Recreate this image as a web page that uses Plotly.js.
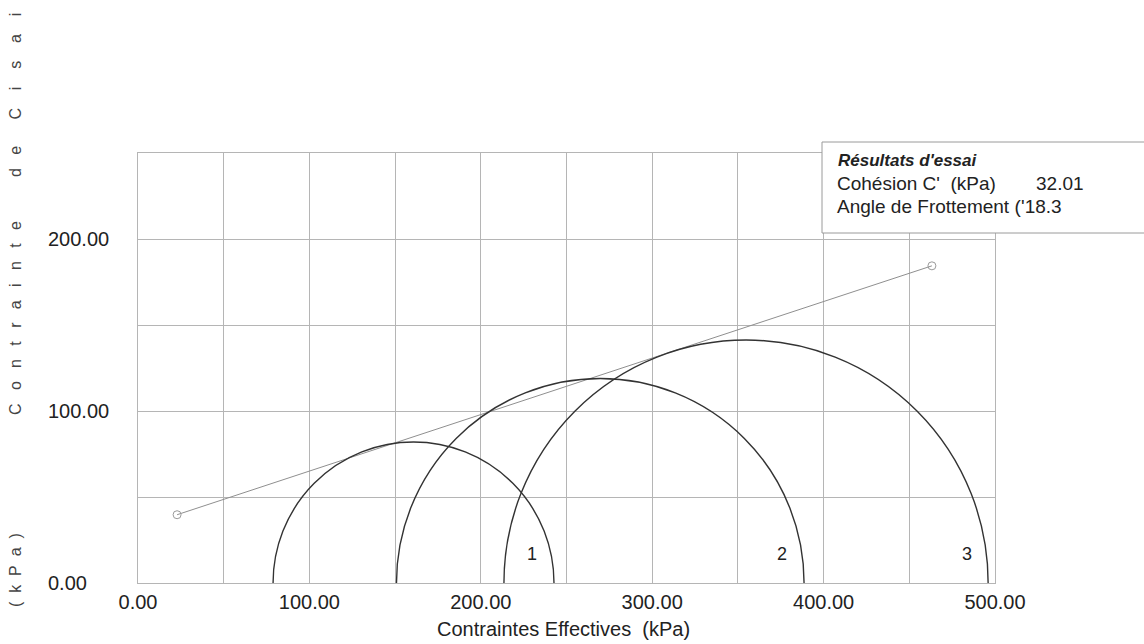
<!DOCTYPE html>
<html>
<head>
<meta charset="utf-8">
<script src="https://cdn.plot.ly/plotly-3.0.1.min.js"></script>
<style>html,body{margin:0;padding:0;background:#fff;}#chart{width:1144px;height:644px;}</style>
</head>
<body>
<div id="chart"></div>
<script>
// ---- data ----
const circleIds = ["1", "2", "3"];
const sigma3 = [78.8, 150.8, 213.5];      // left end of each Mohr circle (kPa)
const sigma1 = [242.7, 388.6, 496.0];     // right end of each Mohr circle (kPa)
const circleLabelX = [229.9, 375.7, 483.7];
const circleLabelY = [17, 17, 17];
const envelopeX = [22.8, 463.2];          // failure envelope end points
const envelopeY = [39.7, 184.4];
const xTickVals = [0, 100, 200, 300, 400, 500];
const xTickText = ["0.00", "100.00", "200.00", "300.00", "400.00", "500.00"];
const yTickVals = [0, 100, 200];
const yTickText = ["0.00", "100.00", "200.00"];
const resultTitle = "Résultats d'essai";
const resultRows = ["Cohésion C'  (kPa)", "Angle de Frottement ("];
const resultValues = ["32.01", "'18.3"];
const xTitle = "Contraintes Effectives  (kPa)";
const yTitleWords = ["(kPa)", "Contrainte", "de", "Cisaillement"];

// ---- layout geometry (pixels) ----
const W = 1144, H = 644;
const L = 138, R = 995, T = 153, B = 583;
const px = x => (x - L) / (R - L);
const py = y => (B - y) / (B - T);
const FONT = "Liberation Sans, Arial, sans-serif";
const TXT = "#222";
const GRID = "#b5b5b5";

const spaced = (w, n) => w.split("").join("\u00A0".repeat(n));

const shapes = sigma3.map((s3, i) => {
  const r = (sigma1[i] - s3) / 2;
  return {type: "circle", xref: "x", yref: "y", x0: s3, x1: sigma1[i], y0: -r, y1: r,
          line: {color: "#333333", width: 1.4}, layer: "above"};
});
// results box
shapes.push({type: "rect", xref: "paper", yref: "paper", x0: px(822), x1: px(1160), y0: py(233), y1: py(142),
             line: {color: "#9a9a9a", width: 1}, fillcolor: "#ffffff", layer: "above"});

const annotations = [];
circleIds.forEach((t, i) => annotations.push({xref: "x", yref: "y", x: circleLabelX[i], y: circleLabelY[i], text: t,
  showarrow: false, font: {family: FONT, size: 18, color: TXT}}));
yTickVals.forEach((v, i) => annotations.push({xref: "paper", yref: "y", x: px(46), y: v, text: yTickText[i],
  xanchor: "left", yanchor: "middle", showarrow: false, font: {family: FONT, size: 20, color: TXT}}));
annotations.push({xref: "paper", yref: "paper", x: px(563), y: py(629), text: xTitle, showarrow: false,
  xanchor: "center", yanchor: "middle", font: {family: FONT, size: 20, color: TXT}});
// results box text
annotations.push({xref: "paper", yref: "paper", x: px(836), y: py(160), text: "<b><i>" + resultTitle + "</i></b>",
  xanchor: "left", yanchor: "middle", showarrow: false, font: {family: FONT, size: 17, color: TXT}});
resultRows.forEach((t, i) => {
  annotations.push({xref: "paper", yref: "paper", x: px(835), y: py(184 + 23 * i), text: t,
    xanchor: "left", yanchor: "middle", showarrow: false, font: {family: FONT, size: 19, color: TXT}});
});
annotations.push({xref: "paper", yref: "paper", x: px(1034), y: py(184), text: resultValues[0],
  xanchor: "left", yanchor: "middle", showarrow: false, font: {family: FONT, size: 19, color: TXT}});
annotations.push({xref: "paper", yref: "paper", x: px(1019), y: py(207), text: resultValues[1],
  xanchor: "left", yanchor: "middle", showarrow: false, font: {family: FONT, size: 19, color: TXT}});
// y-axis title, rotated, letter-spaced words
const yWordPos = [{y: 570, a: "middle", n: 2}, {y: 318, a: "middle", n: 3}, {y: 162, a: "middle", n: 3}, {y: 122, a: "bottom", n: 4}];
yTitleWords.forEach((w, i) => annotations.push({xref: "paper", yref: "paper", x: px(15), y: py(yWordPos[i].y),
  text: spaced(w, yWordPos[i].n), textangle: -90, xanchor: "center", yanchor: yWordPos[i].a, showarrow: false,
  font: {family: FONT, size: 16, color: "#444"}}));

const traces = [{
  type: "scatter", mode: "lines+markers", x: envelopeX, y: envelopeY,
  line: {color: "#8f8f8f", width: 1},
  marker: {symbol: "circle-open", size: 8, color: "#9a9a9a", line: {width: 1}},
  hoverinfo: "skip", cliponaxis: false
}];

const layout = {
  width: W, height: H,
  margin: {l: L, r: W - R, t: T, b: H - B, pad: 0},
  paper_bgcolor: "#fff", plot_bgcolor: "#fff",
  showlegend: false,
  xaxis: {range: [0, 500], tickvals: xTickVals, ticktext: xTickText, ticks: "",
          tickfont: {family: FONT, size: 20, color: TXT}, ticklabelstandoff: 1,
          showgrid: true, gridcolor: GRID, gridwidth: 1, zeroline: false,
          showline: true, linecolor: GRID, linewidth: 1, mirror: true,
          minor: {dtick: 50, showgrid: true, gridcolor: GRID, gridwidth: 1, ticks: ""}},
  yaxis: {range: [0, 250], tickvals: yTickVals, showticklabels: false, ticks: "",
          showgrid: true, gridcolor: GRID, gridwidth: 1, zeroline: false,
          showline: true, linecolor: GRID, linewidth: 1, mirror: true,
          minor: {dtick: 50, showgrid: true, gridcolor: GRID, gridwidth: 1, ticks: ""}},
  shapes: shapes,
  annotations: annotations
};

Plotly.newPlot("chart", traces, layout, {displayModeBar: false, staticPlot: true});
</script>
</body>
</html>
